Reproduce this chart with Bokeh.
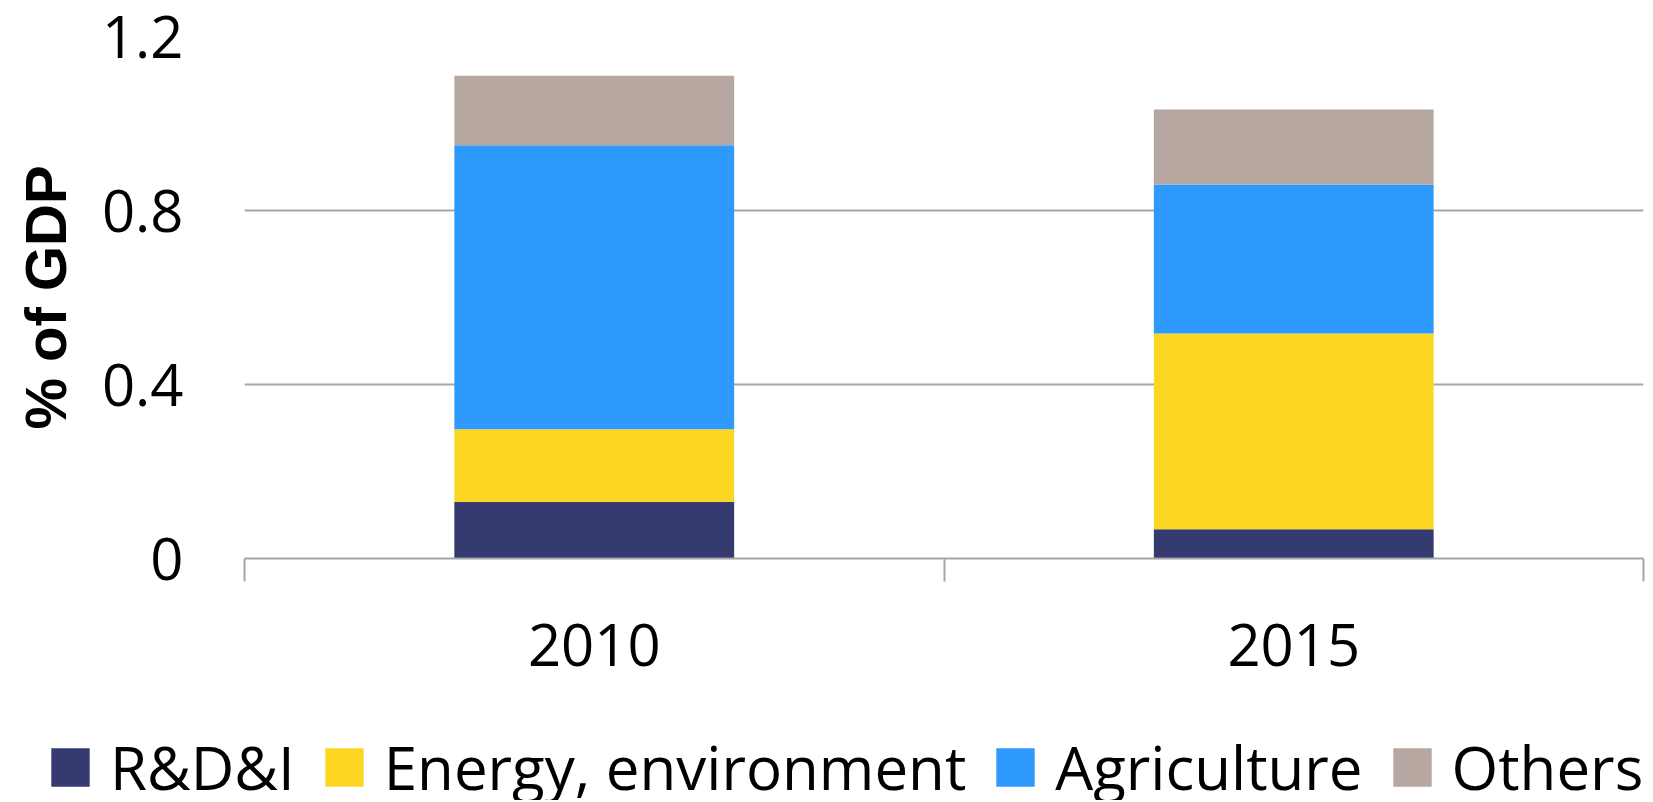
from bokeh.plotting import figure
from bokeh.layouts import column
from bokeh.models import FixedTicker, Range1d, Legend, LegendItem, ColumnDataSource
from bokeh.embed import file_html
from bokeh.resources import INLINE

years = ["2010", "2015"]
series = ["R&D&I", "Energy, environment", "Agriculture", "Others"]
rdi = [0.13, 0.067]
energy = [0.167, 0.45]
agriculture = [0.653, 0.343]
others = [0.16, 0.172]
colors = ["#353B71", "#FDD624", "#2F9AFD", "#B6A8A1"]
y_ticks = [0, 0.4, 0.8, 1.2]

xpos = [i + 0.5 for i in range(len(years))]
src = ColumnDataSource(dict(x=xpos, rdi=rdi, energy=energy,
                            agriculture=agriculture, others=others))
keys = ["rdi", "energy", "agriculture", "others"]

W = 1645
H1 = 700
H2 = 100

p = figure(width=W, height=H1, output_backend="svg", toolbar_location=None,
           x_range=Range1d(0, len(years)), y_range=Range1d(0, 1.2))
p.frame_align = False
p.min_border_left = 244
p.min_border_right = 2
p.min_border_top = 36
p.min_border_bottom = H1 - 558
p.outline_line_color = None
p.background_fill_color = "white"
p.border_fill_color = "white"

rs = p.vbar_stack(keys, x="x", width=0.4, source=src, color=colors, line_color=None)

# x axis
xa = p.xaxis[0]
xa.ticker = FixedTicker(ticks=xpos, minor_ticks=list(range(len(years) + 1)))
xa.major_label_overrides = {x: y for x, y in zip(xpos, years)}
xa.major_tick_out = 0
xa.major_tick_in = 0
xa.minor_tick_out = 23
xa.minor_tick_in = 0
xa.minor_tick_line_color = "#A6A6A6"
xa.minor_tick_line_width = 2
xa.axis_line_color = "#A6A6A6"
xa.axis_line_width = 2
xa.major_label_text_font = "Open Sans"
xa.major_label_text_font_size = "58px"
xa.major_label_text_color = "#000000"
xa.major_label_standoff = 42

# y axis
ya = p.yaxis[0]
ya.ticker = FixedTicker(ticks=y_ticks)
ya.major_label_overrides = {t: ("0" if t == 0 else str(t)) for t in y_ticks}
ya.axis_line_color = None
ya.major_tick_line_color = None
ya.minor_tick_line_color = None
ya.major_label_text_font = "Open Sans"
ya.major_label_text_font_size = "58px"
ya.major_label_text_color = "#000000"
ya.major_label_standoff = 55
ya.axis_label = "% of GDP"
ya.axis_label_text_font = "Liberation Sans"
ya.axis_label_text_font_style = "bold"
ya.axis_label_text_font_size = "58px"
ya.axis_label_text_color = "#000000"
ya.axis_label_standoff = 21

p.xgrid.grid_line_color = None
p.ygrid.grid_line_color = "#A6A6A6"
p.ygrid.grid_line_width = 2
p.ygrid.ticker = FixedTicker(ticks=y_ticks)

# legend strip (legend swatches come from the same stacked bars, kept out of view)
p2 = figure(width=W, height=H2, output_backend="svg", toolbar_location=None,
            x_range=Range1d(-20, -19), y_range=Range1d(0, 1))
p2.frame_align = False
p2.min_border_left = 0
p2.min_border_right = 0
p2.min_border_top = 0
p2.min_border_bottom = 0
p2.axis.visible = False
p2.grid.visible = False
p2.outline_line_color = None
p2.background_fill_color = "white"
p2.border_fill_color = "white"

rs2 = p2.vbar_stack(keys, x="x", width=0.4, source=src, color=colors, line_color=None)

legend = Legend(items=[LegendItem(label=s, renderers=[r]) for s, r in zip(series, rs2)],
                orientation="horizontal", location=(46, -8))
legend.glyph_width = 48
legend.glyph_height = 48
legend.label_standoff = 16
legend.spacing = 25
legend.padding = 0
legend.margin = 0
legend.border_line_color = None
legend.background_fill_alpha = 0
legend.label_text_font = "Open Sans"
legend.label_text_font_size = "60px"
legend.label_text_color = "#000000"
p2.add_layout(legend, "center")

layout = column(p, p2, spacing=0)
open("out.html", "w").write(file_html(layout, INLINE))
